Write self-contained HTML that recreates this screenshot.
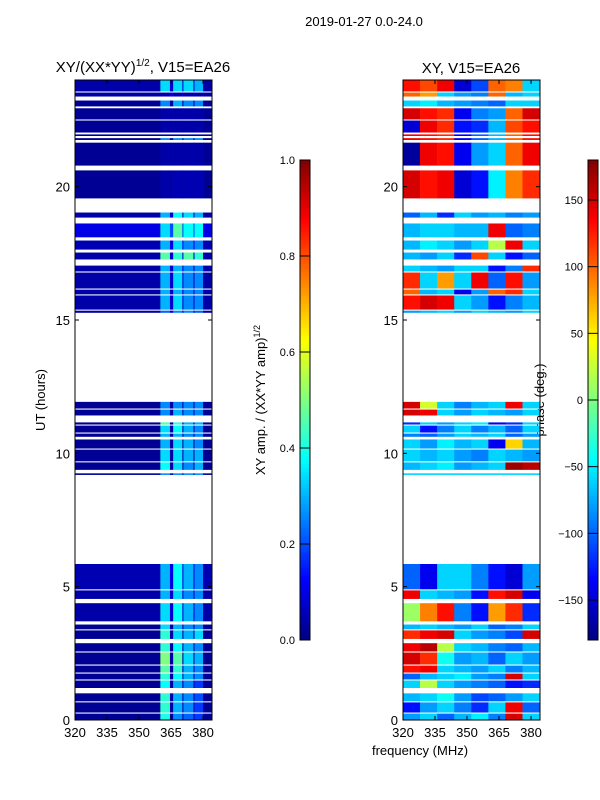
<!DOCTYPE html>
<html><head><meta charset="utf-8"><style>
body{margin:0;background:#fff;}
svg{display:block;font-family:"Liberation Sans","DejaVu Sans",sans-serif;}
</style></head><body>
<svg id="fig" width="600" height="800" viewBox="0 0 600 800">
<text x="364" y="26" font-size="13" text-anchor="middle">2019-01-27 0.0-24.0</text>
<text x="143" y="72" font-size="15" text-anchor="middle">XY/(XX*YY)<tspan font-size="10" dy="-6">1/2</tspan><tspan dy="6">, V15=EA26</tspan></text>
<text x="471" y="73" font-size="15" text-anchor="middle">XY, V15=EA26</text>
<text transform="translate(45,400) rotate(-90)" font-size="13" text-anchor="middle">UT (hours)</text>
<text x="420" y="755" font-size="13" text-anchor="middle">frequency (MHz)</text>
<text transform="translate(265,400) rotate(-90)" font-size="13" text-anchor="middle">XY amp. / (XX*YY amp)<tspan font-size="9" dy="-5">1/2</tspan></text>
<text transform="translate(544,400) rotate(-90)" font-size="13" text-anchor="middle">phase (deg.)</text>
<g id="g"></g>
</svg>
<script>
const segStart=[0,0.28,0.70,1.2,1.52,1.78,2.08,2.57,3.04,3.4,3.7,4.54,4.9,9.19,9.38,9.7,10.18,10.62,10.78,11.08,11.42,11.68,15.27,15.39,15.96,16.18,16.82,17.27,17.64,18.1,18.84,19.56,20.79,21.75,21.9,22.03,22.52,23.01,23.38,23.57];
const segEnd=[0.24,0.66,1.0,1.48,1.74,2.04,2.53,2.88,3.36,3.58,4.38,4.86,5.85,9.25,9.66,10.14,10.52,10.74,11.04,11.16,11.64,11.93,15.35,15.92,16.14,16.78,17.04,17.53,17.98,18.62,19.03,20.61,21.65,21.82,21.96,22.48,22.94,23.23,23.53,24];
const ampBase=[.02,.02,.02,.02,.02,.02,.02,.02,.02,.02,.04,.04,.05,.02,.02,.02,.02,.02,.02,.02,.02,.02,.04,.04,.04,.04,.04,.04,.05,.1,.04,.02,.02,.02,.02,.02,.02,.02,.04,.04];
const ampStripes=[[.4,.26,.22,.18],[.42,.3,.26,.18],[.42,.3,.26,.2],[.38,.3,.26,.18],[.42,.38,.3,.26],[.46,.42,.3,.26],[.5,.46,.34,.3],[.42,.38,.3,.26],[.42,.34,.3,.34],[.34,.3,.26,.26],[.34,.38,.3,.26],[.3,.34,.26,.26],[.3,.38,.3,.26],[.26,.26,.26,.26],[.38,.34,.26,.3],[.34,.34,.3,.3],[.3,.34,.3,.26],[.3,.3,.26,.26],[.34,.38,.3,.26],[.46,.42,.3,.3],[.26,.3,.26,.26],[.26,.26,.26,.26],[.22,.26,.26,.22],[.3,.34,.26,.26],[.3,.3,.26,.26],[.3,.34,.26,.26],[.3,.3,.26,.26],[.46,.42,.46,.42],[.3,.34,.26,.26],[.34,.46,.38,.38],[.3,.38,.34,.3],[.04,.05,.05,.05],[.04,.04,.04,.04],[.26,.26,.26,.26],[.04,.04,.04,.04],[.04,.04,.04,.04],[.04,.04,.04,.04],[.26,.3,.26,.26],[.05,.05,.05,.05],[.34,.34,.34,.3]];
const phase=[[-80,-60,-100,-70,-50,-90,150,-60],[-130,-80,-60,-90,-120,-60,140,-100],[-70,-60,-40,-80,-110,-100,-80,-60],[-60,20,-60,-80,-90,-100,-130,-120],[-100,-70,-60,-50,-80,-90,150,-60],[130,140,-60,-70,-80,-60,-90,-70],[150,120,-40,-80,-70,-100,-60,-80],[140,160,20,-60,-70,-90,-100,-70],[120,140,150,-60,-80,-90,-110,150],[-70,-60,-70,-80,-60,-100,-90,-60],[10,90,130,-90,-130,80,120,-120],[140,-60,-70,-80,-130,130,150,-140],[-100,-140,-60,-60,-90,-130,-150,-80],[-60,-60,-60,-60,-60,-60,-60,-60],[-70,-60,-50,-80,-70,-60,170,160],[-60,-70,-60,-80,-90,-60,-70,-80],[-60,-80,-50,-70,-60,-140,60,-70],[-90,-100,-80,-60,-70,-60,-100,-80],[-60,-130,-90,-60,-90,-70,-100,-60],[-120,-60,-80,-60,-50,-140,-120,-60],[150,140,-60,-80,-60,-70,-80,-60],[150,30,-60,-90,-70,-60,140,-60],[-80,-70,-60,-80,-60,-70,-80,-60],[130,150,140,-60,-80,-130,-90,-70],[100,-70,-60,-140,-80,100,120,-60],[120,-60,80,-60,140,-100,130,-80],[-60,-70,-80,-60,-60,-130,-90,120],[-70,-80,-60,-120,110,-60,-130,-100],[-70,-50,-60,-80,-60,20,140,-60],[-70,-60,-60,-70,-70,140,-100,-90],[-100,-70,-120,-60,-80,-70,-90,-80],[150,130,140,-150,-130,-50,90,120],[-170,140,130,-140,-80,-60,100,140],[140,130,120,-140,-100,-70,100,130],[140,130,120,-140,-100,-70,100,130],[-150,140,120,-130,-120,-70,110,130],[150,130,120,-140,-90,-80,100,150],[-60,-50,-70,-80,-90,-100,-60,-60],[100,80,-60,-80,-90,100,-70,-60],[130,110,140,-150,-110,100,90,-60]];
const stripeEdges=[[320,360],[360,364.5],[364.5,366],[366,370.3],[370.3,370.8],[370.8,375.5],[375.5,376],[376,380],[380,384]];
const stripeIndex=[-1,0,-2,1,-2,2,-2,3,-1];
const phaseEdges=[320,328,336,344,352,360,368,376,384];
const xTicks=[320,335,350,365,380];
const yTicks=[0,5,10,15,20];
const ampTicks=[0,0.2,0.4,0.6,0.8,1.0];
const phaseTicks=[-150,-100,-50,0,50,100,150];

const NS="http://www.w3.org/2000/svg";
const g=document.getElementById('g');
const TOP=80,BOT=720;
function yS(h){return BOT-(BOT-TOP)*h/24;}
function xS(f,x0){return x0+(f-320)*(137/64.2);}
function jet(v){v=Math.max(0,Math.min(1,v));
 const r=Math.max(0,Math.min(1,1.5-Math.abs(4*v-3))),gg=Math.max(0,Math.min(1,1.5-Math.abs(4*v-2))),b=Math.max(0,Math.min(1,1.5-Math.abs(4*v-1)));
 return `rgb(${Math.round(r*255)},${Math.round(gg*255)},${Math.round(b*255)})`;}
function el(t,a,p){const e=document.createElementNS(NS,t);for(const k in a)e.setAttribute(k,a[k]);(p||g).appendChild(e);return e;}

for(let i=0;i<segStart.length;i++){
 const y1=yS(segEnd[i]),y2=yS(segStart[i]);
 for(let k=0;k<stripeEdges.length;k++){
  const si=stripeIndex[k];
  const v=si>=0?ampStripes[i][si]:(si===-2?ampBase[i]*2:ampBase[i]);
  const x1=xS(stripeEdges[k][0],75),x2=xS(stripeEdges[k][1],75);
  const r=el('rect',{x:x1,y:y1,width:x2-x1+0.3,height:y2-y1,fill:jet(v)});
  
  
 }
 for(let k=0;k<8;k++){
  const x1=xS(phaseEdges[k],403),x2=xS(phaseEdges[k+1],403);
  const r=el('rect',{x:x1,y:y1,width:x2-x1+0.3,height:y2-y1,fill:jet((phase[i][k]+180)/360)});
  
  
 }
}
[[75,'amp'],[403,'phase']].forEach(([x0,nm])=>{
 const f=el('rect',{x:x0,y:TOP,width:137,height:BOT-TOP,fill:'none',stroke:'#000','stroke-width':1});
 
 
 xTicks.forEach(t=>{const x=xS(t,x0);
  el('line',{x1:x,y1:BOT,x2:x,y2:BOT-4,stroke:'#000'});el('line',{x1:x,y1:TOP,x2:x,y2:TOP+4,stroke:'#000'});
  const tx=el('text',{x:x,y:BOT+17,'font-size':13,'text-anchor':'middle'});tx.textContent=t;
  
  });
 yTicks.forEach(t=>{const y=yS(t);
  el('line',{x1:x0,y1:y,x2:x0+4,y2:y,stroke:'#000'});el('line',{x1:x0+137,y1:y,x2:x0+133,y2:y,stroke:'#000'});
  const tx=el('text',{x:x0-5,y:y+5,'font-size':13,'text-anchor':'end'});tx.textContent=t;
  
  });
});
function cbar(x0,ticks,lo,hi,nm){
 for(let i=0;i<120;i++){const v=i/120;
  const r=el('rect',{x:x0,y:640-(i+1)*4,width:10,height:4.3,fill:jet(v+1/240)});
  
  }
 const f=el('rect',{x:x0,y:160,width:10,height:480,fill:'none',stroke:'#000'});
 
 
 ticks.forEach(t=>{const y=640-480*(t-lo)/(hi-lo);
  el('line',{x1:x0,y1:y,x2:x0+10,y2:y,stroke:'#000'});
  const tx=el('text',{x:x0-5,y:y+4,'font-size':11,'text-anchor':'end'});
  tx.textContent=(nm==='amp'?t.toFixed(1):String(t).replace('-','\u2212'));
  
  });
}
cbar(300,ampTicks,0,1,'amp');
cbar(588,phaseTicks,-180,180,'phase');
</script>
</body></html>
